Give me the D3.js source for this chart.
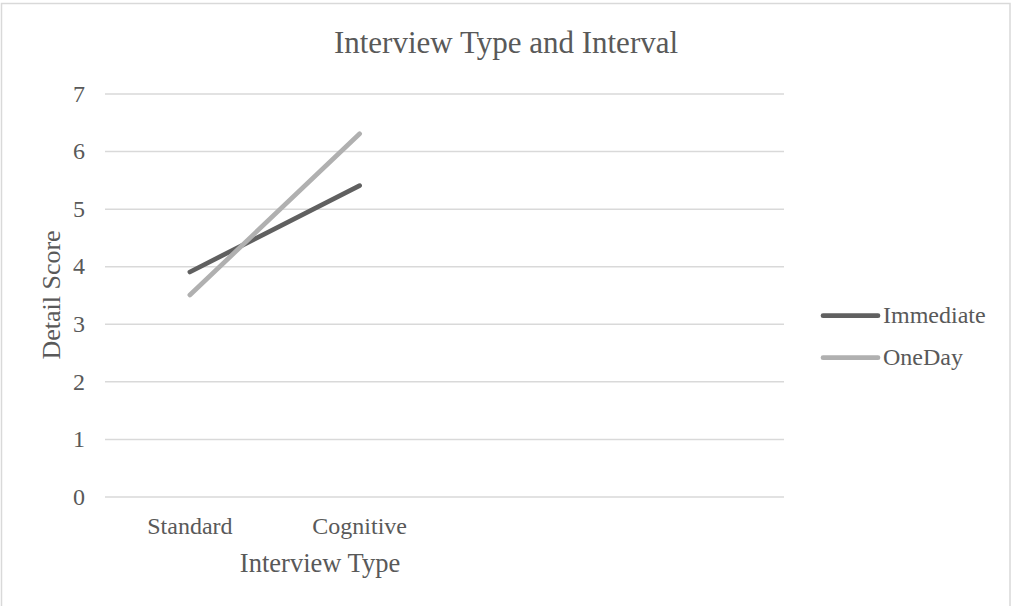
<!DOCTYPE html>
<html>
<head>
<meta charset="utf-8">
<script src="https://cdn.jsdelivr.net/npm/d3@7"></script>
<style>
  body { margin: 0; background: #fff; }
  svg text { font-family: "Liberation Serif", "Times New Roman", serif; fill: #595959; }
</style>
</head>
<body>
<div id="chart_div"></div>
<script>
// chart data
const categories = ["Standard", "Cognitive", "", ""]
const seriesNames = ["Immediate", "OneDay"]
const immediateValues = [3.9, 5.4]
const oneDayValues = [3.5, 6.3]
const yTicks = [0, 1, 2, 3, 4, 5, 6, 7]

const seriesColors = ["#606060", "#b0b0b0"]
const gridColor = "#d9d9d9"

const width = 1011, height = 606
const plot = {left: 105, right: 784, top: 93.5, bottom: 496.5}

const svg = d3.select("#chart_div")
  .append("svg")
  .attr("width", width)
  .attr("height", height)

// outer chart border
svg.append("rect")
  .attr("x", 1.5).attr("y", 3.5)
  .attr("width", 1008.5).attr("height", 620)
  .attr("fill", "none")
  .attr("stroke", gridColor)
  .attr("stroke-width", 1.5)

const x = d3.scaleBand()
  .domain(d3.range(categories.length))
  .range([plot.left, plot.right])

const y = d3.scaleLinear()
  .domain([0, 7])
  .range([plot.bottom, plot.top])

// y axis + gridlines
const yAxis = svg.append("g")
  .attr("transform", `translate(${plot.left},0)`)
  .call(d3.axisLeft(y)
    .tickValues(yTicks)
    .tickFormat(d3.format("d"))
    .tickSize(-(plot.right - plot.left))
    .tickPadding(20))
yAxis.select(".domain").remove()
yAxis.selectAll(".tick line")
  .attr("stroke", gridColor)
  .attr("stroke-width", 1.5)
yAxis.selectAll(".tick text")
  .attr("font-size", 24)

// x axis category labels
const xAxis = svg.append("g")
  .attr("transform", `translate(0,${plot.bottom})`)
  .call(d3.axisBottom(x)
    .tickSize(0)
    .tickPadding(20)
    .tickFormat(i => categories[i]))
xAxis.select(".domain").remove()
xAxis.selectAll(".tick text")
  .attr("font-size", 24)

// titles
svg.append("text")
  .attr("x", 506).attr("y", 53)
  .attr("text-anchor", "middle")
  .attr("font-size", 31)
  .text("Interview Type and Interval")

svg.append("text")
  .attr("x", 320).attr("y", 572)
  .attr("text-anchor", "middle")
  .attr("font-size", 26.5)
  .text("Interview Type")

svg.append("text")
  .attr("transform", `translate(60,${(plot.top + plot.bottom) / 2}) rotate(-90)`)
  .attr("text-anchor", "middle")
  .attr("font-size", 26)
  .text("Detail Score")

// lines
const series = [immediateValues, oneDayValues]
const line = d3.line()
  .x((d, i) => x(i) + x.bandwidth() / 2)
  .y(d => y(d))

svg.selectAll(".series-line")
  .data(series)
  .join("path")
  .attr("class", "series-line")
  .attr("d", d => line(d))
  .attr("fill", "none")
  .attr("stroke", (d, i) => seriesColors[i])
  .attr("stroke-width", 4.7)
  .attr("stroke-linecap", "round")

// legend
const legend = svg.selectAll(".legend-item")
  .data(seriesNames)
  .join("g")
  .attr("class", "legend-item")
  .attr("transform", (d, i) => `translate(823,${315.7 + i * 42})`)

legend.append("line")
  .attr("x1", 0).attr("x2", 55)
  .attr("stroke", (d, i) => seriesColors[i])
  .attr("stroke-width", 4.7)
  .attr("stroke-linecap", "round")

legend.append("text")
  .attr("x", 60).attr("y", 7.5)
  .attr("font-size", 24)
  .text(d => d)
</script>
</body>
</html>
